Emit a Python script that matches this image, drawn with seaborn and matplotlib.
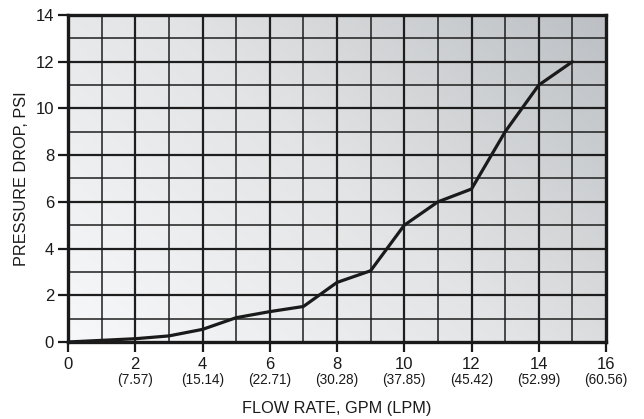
import numpy as np
import pandas as pd
import matplotlib
matplotlib.use("Agg")
import matplotlib.pyplot as plt
import matplotlib.transforms as mtransforms
from matplotlib.colors import LinearSegmentedColormap
import seaborn as sns

# Data
flow_gpm = [0, 1, 2, 3, 4, 5, 6, 7, 8, 9, 10, 11, 12, 13, 14, 15]
pressure_psi = [0, 0.07, 0.14, 0.26, 0.54, 1.04, 1.3, 1.52, 2.55, 3.05, 5.0, 6.0, 6.55, 9.0, 11.0, 12.0]

x_ticks = [0, 2, 4, 6, 8, 10, 12, 14, 16]
x_tick_labels = ["0", "2", "4", "6", "8", "10", "12", "14", "16"]
lpm_labels = ["", "(7.57)", "(15.14)", "(22.71)", "(30.28)", "(37.85)", "(45.42)", "(52.99)", "(60.56)"]
y_ticks = [0, 2, 4, 6, 8, 10, 12, 14]

df = pd.DataFrame({"gpm": flow_gpm, "psi": pressure_psi})

sns.set_theme(style="white")
plt.rcParams["font.family"] = ["Liberation Sans", "DejaVu Sans"]

fig = plt.figure(figsize=(6.44, 4.19), dpi=100)
ax = fig.add_axes([0.1056, 0.1838, 0.8354, 0.7804])

# diagonal gradient background
n = 200
gx, gy = np.meshgrid(np.linspace(0, 1, n), np.linspace(0, 1, n))
grad = (gx * 0.6 + gy * 0.4)
cmap = LinearSegmentedColormap.from_list("bg", ["#f7f8f9", "#e3e4e5", "#bcc0c4"])
ax.imshow(grad, cmap=cmap, extent=[0, 16, 0, 14], origin="lower", aspect="auto", zorder=0)

ax.set_xlim(0, 16)
ax.set_ylim(0, 14)

# grid
for v in range(1, 16):
    ax.axvline(v, color="#1e1e1e", lw=1.6 if v % 2 == 0 else 1.1, zorder=1)
for v in range(1, 14):
    ax.axhline(v, color="#1e1e1e", lw=1.6 if v % 2 == 0 else 1.1, zorder=1)

sns.lineplot(data=df, x="gpm", y="psi", ax=ax, color="#1a1a1a", lw=2.3, zorder=3)

for s in ax.spines.values():
    s.set_linewidth(2.4)
    s.set_color("#1a1a1a")
    s.set_visible(True)

ax.set_xticks(x_ticks)
ax.set_xticklabels(x_tick_labels, fontsize=12, color="#1a1a1a")
ax.set_yticks(y_ticks)
ax.set_yticklabels([str(v) for v in y_ticks], fontsize=12, color="#1a1a1a")
ax.tick_params(axis="both", direction="out", length=7, width=1.6, color="#1a1a1a",
               bottom=True, left=True, pad=3)
ax.tick_params(axis="x", pad=4)

trans = mtransforms.blended_transform_factory(ax.transData, ax.transAxes)
for t, lab in zip(x_ticks, lpm_labels):
    if lab:
        ax.text(t, -0.117, lab, transform=trans, ha="center", va="center",
                fontsize=9.8, color="#1a1a1a")

ax.set_xlabel("FLOW RATE, GPM (LPM)", fontsize=11.7, color="#1a1a1a", labelpad=21)
ax.set_ylabel("PRESSURE DROP, PSI", fontsize=11.7, color="#1a1a1a", labelpad=5)

fig.savefig("out.png", dpi=100, facecolor="white")
